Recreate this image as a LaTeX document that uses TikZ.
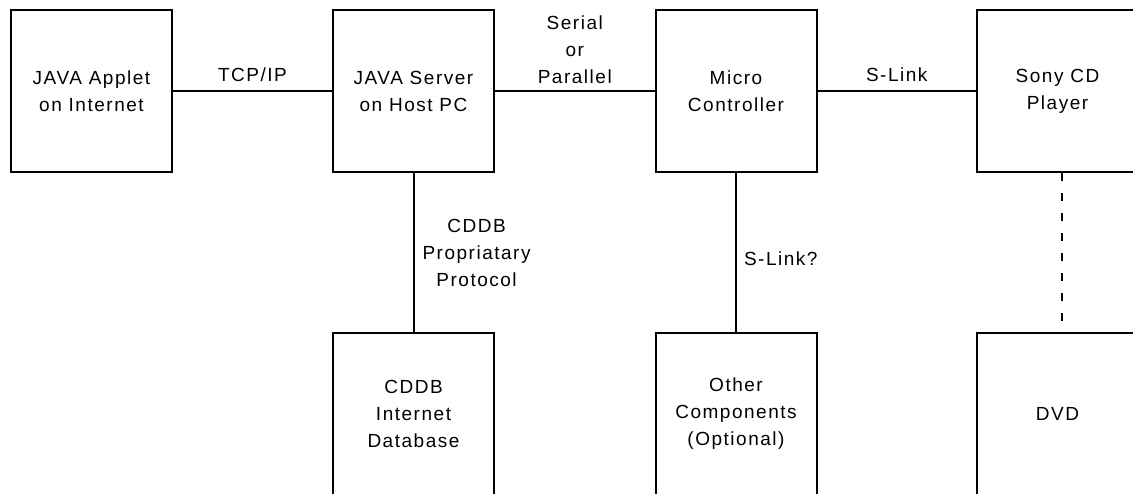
\documentclass[tikz,border=0pt]{standalone}
\usepackage{fontspec}
\setmainfont{Liberation Sans}[LetterSpace=8]

\begin{document}
\begin{tikzpicture}[x=1pt,y=-1pt]
      \tikzset{block/.style={draw,
          line width=2pt,
          minimum width=161pt,
          minimum height=162pt,
          inner sep=0pt,
          align=center,
          font=\fontsize{19}{27}\selectfont},
        link/.style={font=\fontsize{19}{27}\selectfont,
          align=center,
          inner sep=2pt}
      }
      \useasboundingbox (0,0) rectangle (1133,493);
      \clip (0,0) rectangle (1133,493);

      \node [block] (applet) at (91.5,91) {JAVA Applet\\on Internet};
      \node [block] (server) at (413.5,91) {JAVA Server\\on Host PC};
      \node [block] (micro) at (736,91) {Micro\\Controller};
      \node [block] (player) at (1057.5,91) {Sony CD\\Player};

      \node [block] (cddb) at (413.5,414) {CDDB\\Internet\\Database};
      \node [block] (other) at (736,414) {Other\\Components\\(Optional)};
      \node [block] (dvd) at (1057.5,414) {DVD};

      \draw [line width=2pt] (applet) -- node [link,above=6pt] {TCP/IP} (server);
      \draw [line width=2pt] (server) -- node [link,above=4pt] {Serial\\or\\Parallel} (micro);
      \draw [line width=2pt] (micro) -- node [link,above=6pt] {S-Link} (player);
      \draw [line width=2pt] (server) -- node [link,right=6pt] {CDDB\\Propriatary\\Protocol} (cddb);
      \draw [line width=2pt] (micro) -- node [link,right=5pt,yshift=-6pt] {S-Link?} (other);
      \draw [line width=2pt,dash pattern=on 8pt off 12pt] ([xshift=4.5pt]player.south) -- ([xshift=4.5pt]dvd.north);
    \end{tikzpicture}
\end{document}
